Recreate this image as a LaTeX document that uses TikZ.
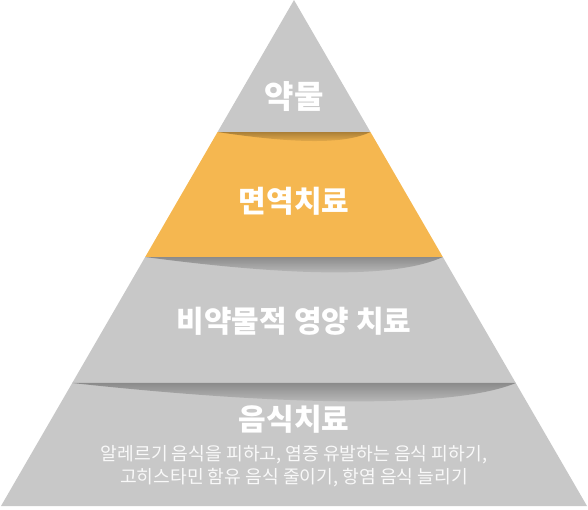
\documentclass[tikz,border=0pt]{standalone}
\usepackage{fontspec}
\setmainfont{Noto Sans CJK KR}
\usetikzlibrary{calc,fadings}
\definecolor{layergray}{RGB}{200,200,200}
\definecolor{layerorange}{RGB}{245,183,80}
\tikzset{
% Layer fills and texts of the pyramid
layer/.style={fill=#1,draw=none},
curl shadow/.style={fill=black,opacity=#1,path fading=south},
title text/.style={text=white,font=\fontsize{30}{33}\selectfont\bfseries},
note text/.style={text=white!95!gray,font=\fontsize{18.2}{23}\selectfont,align=center}
}

\begin{document}
\begin{tikzpicture}[x=1pt,y=-1pt]
      \useasboundingbox (0,0) rectangle (588,509);
      % Corners of the pyramid
      \coordinate (apex) at (294,0);
      \coordinate (bl) at (1,506);
      \coordinate (br) at (587,506);
      % Ends of the three dividing lines
      \foreach \n/\t in {1/0.2609,2/0.5079,3/0.7569}{
        \coordinate (l\n) at ($(apex)!\t!(bl)$);
        \coordinate (r\n) at ($(apex)!\t!(br)$);
      }
      % The layers
      \fill[layer=layergray] (apex) -- (r1) -- (l1) -- cycle;
      \fill[layer=layerorange] (l1) -- (r1) -- (r2) -- (l2) -- cycle;
      \fill[layer=layergray] (l2) -- (r2) -- (r3) -- (l3) -- cycle;
      \fill[layer=layergray] (l3) -- (r3) -- (br) -- (bl) -- cycle;
      % Curled shadows under each dividing line
      \fill[curl shadow=0.3] (l1) -- (r1) .. controls ($(r1)+(-25,12)$) and ($(l1)+(80,12)$) .. (l1);
      \fill[curl shadow=0.3] (l2) -- (r2) .. controls ($(r2)+(-45,21)$) and ($(l2)+(150,20)$) .. (l2);
      \fill[curl shadow=0.3] (l3) -- (r3) .. controls ($(r3)+(-60,25)$) and ($(l3)+(220,24)$) .. (l3);
      % Texts
      \node(drug)[title text,font=\fontsize{32}{35}\selectfont\bfseries] at (294,97) {약물};
      \node(immune)[title text] at (294,201) {면역치료};
      \node(nutrition)[title text] at (294,321) {비약물적 영양 치료};
      \node(diet)[title text] at (294,419) {음식치료};
      \node(dietnote)[note text] at (294,466) {알레르기 음식을 피하고, 염증 유발하는 음식 피하기,\\고히스타민 함유 음식 줄이기, 항염 음식 늘리기};
\end{tikzpicture}
\end{document}
